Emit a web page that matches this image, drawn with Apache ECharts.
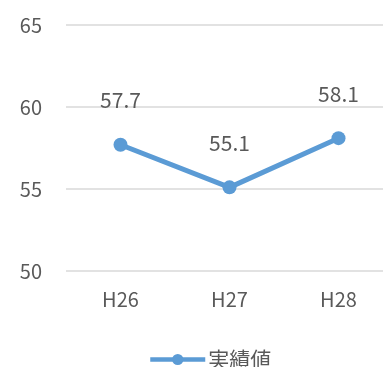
<!DOCTYPE html>
<html>
<head>
<meta charset="utf-8">
<script src="https://cdn.jsdelivr.net/npm/echarts@6/dist/echarts.min.js"></script>
<style>
  html, body { margin: 0; padding: 0; background: #fff; }
  #chart { width: 383px; height: 367px; }
</style>
</head>
<body>
<div id="chart"></div>
<script>
// 年度
var categories = ["H26", "H27", "H28"];
// 実績値
var seriesName = "実績値";
var values = [57.7, 55.1, 58.1];

var font = "'Noto Sans CJK JP', 'Noto Sans', sans-serif";

var chart = echarts.init(document.getElementById("chart"));
chart.setOption({
  animation: false,
  textStyle: { fontFamily: font },
  grid: { left: 66, width: 327, top: 25, bottom: 96, outerBoundsMode: "none" },
  legend: {
    data: [seriesName],
    left: 143,
    top: 344,
    itemWidth: 55,
    itemHeight: 14,
    itemGap: 10,
    lineStyle: { width: 4.5 },
    textStyle: { fontFamily: font, fontSize: 21, color: "#595959", padding: [0, 0, 0, -2] }
  },
  xAxis: {
    type: "category",
    data: categories,
    axisLine: { show: false },
    axisTick: { show: false },
    axisLabel: { fontFamily: font, fontSize: 20, color: "#595959", margin: 18 }
  },
  yAxis: {
    type: "value",
    min: 50,
    max: 65,
    interval: 5,
    axisLine: { show: false },
    axisTick: { show: false },
    splitLine: { lineStyle: { color: "#d9d9d9", width: 1.5 } },
    axisLabel: { fontFamily: font, fontSize: 20, color: "#595959", margin: 24 }
  },
  series: [{
    name: seriesName,
    type: "line",
    data: values,
    symbol: "circle",
    symbolSize: 14,
    lineStyle: { color: "#5b9bd5", width: 5 },
    itemStyle: { color: "#5b9bd5" },
    label: {
      show: true,
      position: "top",
      distance: 27,
      fontFamily: font,
      fontSize: 21,
      color: "#595959"
    }
  }]
});
</script>
</body>
</html>
